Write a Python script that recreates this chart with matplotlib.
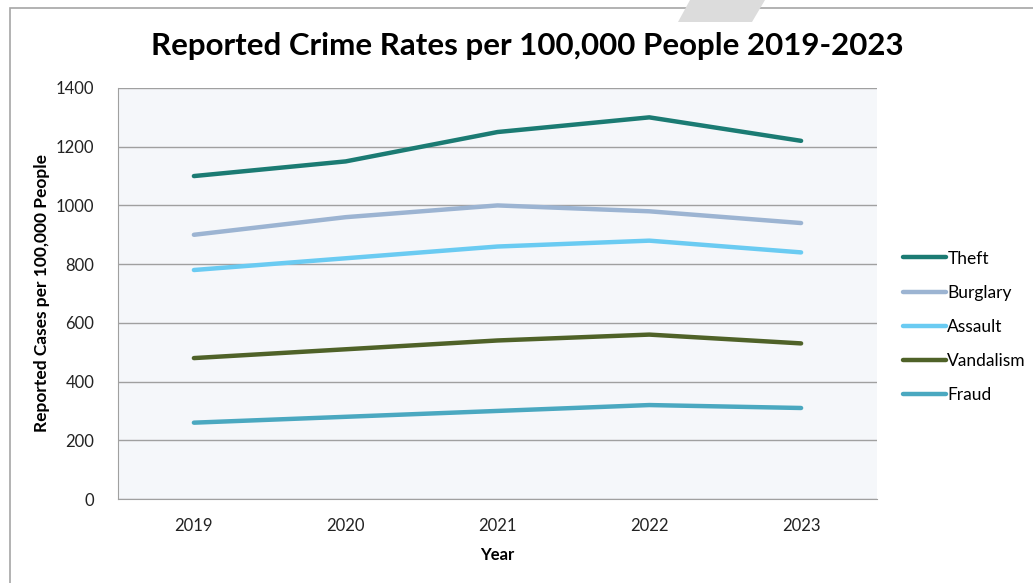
import numpy as np
import matplotlib.pyplot as plt
from matplotlib.patches import Polygon, Rectangle
from matplotlib import rcParams

rcParams['font.family'] = ['Lato', 'DejaVu Sans']

# data
years = ['2019', '2020', '2021', '2022', '2023']
theft = [1100, 1150, 1250, 1300, 1220]
burglary = [900, 960, 1000, 980, 940]
assault = [780, 820, 860, 880, 840]
vandalism = [480, 510, 540, 560, 530]
fraud = [260, 280, 300, 320, 310]

series = [('Theft', theft, '#1B7B73'),
          ('Burglary', burglary, '#9CB4D2'),
          ('Assault', assault, '#6ACBF2'),
          ('Vandalism', vandalism, '#4F6228'),
          ('Fraud', fraud, '#4AA8C0')]

fig = plt.figure(figsize=(10.33, 5.83), dpi=100)
fig.patch.set_facecolor('white')

# outer chart border + watermark shape
fig.add_artist(Rectangle((10/1033, -0.05), 1.1, 1 - 8/583 + 0.05,
                         transform=fig.transFigure, fill=False,
                         edgecolor='#A6A6A6', lw=1.2))
fig.add_artist(Polygon([(690/1033, 1), (765/1033, 1), (752/1033, 1 - 22/583),
                        (678/1033, 1 - 22/583)], closed=True,
                       transform=fig.transFigure, facecolor='#DCDCDC',
                       edgecolor='none'))

ax = fig.add_axes([118/1033, 1 - 499/583, (877 - 118)/1033, (499 - 88)/583])
ax.set_facecolor('#F5F7FA')

x = np.arange(len(years))
for name, vals, col in series:
    ax.plot(x, vals, color=col, lw=3.2, label=name, solid_capstyle='round')

ax.set_xlim(-0.5, len(years) - 0.5)
ax.set_ylim(0, 1400)
ax.set_yticks(np.arange(0, 1401, 200))
ax.set_xticks(x)
ax.set_xticklabels(years)
ax.grid(axis='y', color='#A0A0A0', lw=1)
ax.set_axisbelow(True)
for s in ['top', 'right']:
    ax.spines[s].set_visible(False)
for s in ['left', 'bottom']:
    ax.spines[s].set_color('#A0A0A0')
ax.tick_params(length=0, labelsize=12, colors='#222222', pad=14)
ax.tick_params(axis='y', pad=17)

ax.set_xlabel('Year', fontsize=12, fontweight='bold', labelpad=9)
ax.set_ylabel('Reported Cases per 100,000 People', fontsize=12.5,
              fontweight='bold', labelpad=4)

fig.text(527/1033, 1 - 46/583, 'Reported Crime Rates per 100,000 People 2019-2023',
         ha='center', va='center', fontsize=22.5, fontweight='bold')

fig.legend(loc='center left', bbox_to_anchor=(903/1033, 1 - 327/583),
           frameon=False, fontsize=12.5, handlelength=2.5, handletextpad=0.05,
           labelspacing=1.05, borderpad=0, borderaxespad=0)

fig.savefig('out.png', dpi=100)
